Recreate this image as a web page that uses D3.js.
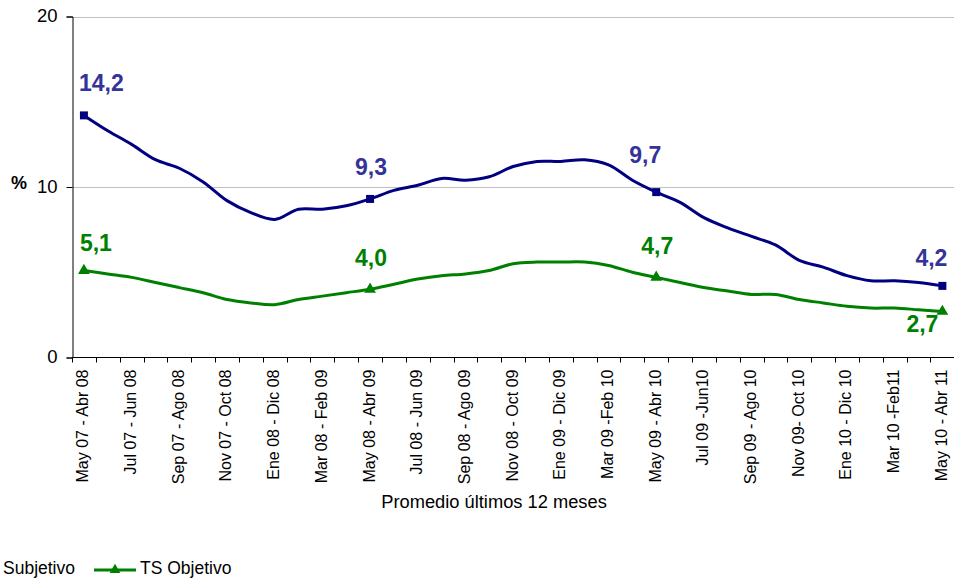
<!DOCTYPE html>
<meta charset="utf-8">
<style>

body { margin: 0; background: #fff; }
svg { display: block; font-family: "Liberation Sans", Arial, sans-serif; }
.grid line { stroke: #c0c0c0; stroke-width: 1; }

</style>

<svg width="954" height="580"></svg>

<script src="https://d3js.org/d3.v7.min.js"></script>
<script>

// periodos (promedio móvil de 12 meses)
var periodos = [
  "May 07 - Abr 08", "Jun 07 - May 08", "Jul 07 - Jun 08", "Ago 07 - Jul 08",
  "Sep 07 - Ago 08", "Oct 07 - Sep 08", "Nov 07 - Oct 08", "Dic 07 - Nov 08",
  "Ene 08 - Dic 08", "Feb 08 - Ene 09", "Mar 08 - Feb 09", "Abr 08 - Mar 09",
  "May 08 - Abr 09", "Jun 08 - May 09", "Jul 08 - Jun 09", "Ago 08 - Jul 09",
  "Sep 08 - Ago 09", "Oct 08 - Sep 09", "Nov 08 - Oct 09", "Dic 08 - Nov 09",
  "Ene 09 - Dic 09", "Feb 09 - Ene 10", "Mar 09 -Feb 10", "Abr 09 - Mar 10",
  "May 09 - Abr 10", "Jun 09 - May 10", "Jul 09 -Jun10", "Ago 09 - Jul 10",
  "Sep 09 - Ago 10", "Oct 09 - Sep 10", "Nov 09- Oct 10", "Dic 09 - Nov 10",
  "Ene 10 - Dic 10", "Feb 10 - Ene 11", "Mar 10 -Feb11", "Abr 10 - Mar 11",
  "May 10 - Abr 11"
];

var subjetivo = [
  14.2, 13.3, 12.5, 11.6, 11.1, 10.3, 9.2, 8.5, 8.1, 8.7, 8.7, 8.9,
  9.3, 9.8, 10.1, 10.5, 10.4, 10.6, 11.2, 11.5, 11.5, 11.6, 11.3, 10.4,
  9.7, 9.1, 8.2, 7.6, 7.1, 6.6, 5.7, 5.3, 4.8, 4.5, 4.5, 4.4,
  4.2
];

var objetivo = [
  5.1, 4.9, 4.7, 4.4, 4.1, 3.8, 3.4, 3.2, 3.1, 3.4, 3.6, 3.8,
  4.0, 4.3, 4.6, 4.8, 4.9, 5.1, 5.5, 5.6, 5.6, 5.6, 5.4, 5.0,
  4.7, 4.4, 4.1, 3.9, 3.7, 3.7, 3.4, 3.2, 3.0, 2.9, 2.9, 2.8,
  2.7
];

var yTicks = [0, 10, 20];
var marcados = [0, 12, 24, 36];   // puntos con marcador y etiqueta

var series = [
  {nome: "Subjetivo", valores: subjetivo, cor: "#000080", corTexto: "#333399", marcador: d3.symbolSquare},
  {nome: "TS Objetivo", valores: objetivo, cor: "#008000", corTexto: "#008000", marcador: d3.symbolTriangle}
];

// desplazamiento de las etiquetas respecto del punto [serie][marcado]
var desloc = [
  [{dx: -5, dy: -24, a: "start"}, {dx: 1, dy: -24, a: "middle"}, {dx: -11, dy: -29, a: "middle"}, {dx: 5, dy: -20, a: "end"}],
  [{dx: -4, dy: -20, a: "start"}, {dx: 1, dy: -23, a: "middle"}, {dx: 1, dy: -23, a: "middle"}, {dx: -4, dy: 21, a: "end"}]
];

var svg = d3.select("svg");

var x = d3.scaleBand()
    .domain(periodos)
    .range([72, 954.3])
    .padding(0);

var y = d3.scaleLinear()
    .domain([0, 20])
    .range([357.5, 16.5]);

var cx = d => x(d) + x.bandwidth() / 2;

// grade
svg.append("g")
    .attr("class", "grid")
  .selectAll("line")
  .data(yTicks.filter(t => t > 0))
  .enter().append("line")
    .attr("x1", 72).attr("x2", 954)
    .attr("y1", d => Math.round(y(d)) + 0.5)
    .attr("y2", d => Math.round(y(d)) + 0.5);

// eixo y
var eixoY = svg.append("g")
    .attr("transform", "translate(72.5,0)")
    .call(d3.axisLeft(y).tickValues(yTicks).tickSize(6).tickPadding(9).tickFormat(d3.format("d")));
eixoY.select(".domain").attr("stroke", "#000");
eixoY.selectAll(".tick line").attr("stroke", "#000");
eixoY.selectAll(".tick text")
    .attr("font-size", 18.5)
    .attr("font-family", "Liberation Sans, Arial, sans-serif")
    .attr("fill", "#000")
    .attr("dy", "0.28em");

svg.append("text")
    .attr("x", 11)
    .attr("y", 189)
    .attr("font-size", 18)
    .attr("font-weight", "bold")
    .text("%");

// eixo x
var eixoX = svg.append("g")
    .attr("transform", "translate(0,357.5)");
eixoX.append("line")
    .attr("x1", 72).attr("x2", 954)
    .attr("stroke", "#000");
eixoX.selectAll(".tk")
  .data(periodos)
  .enter().append("line")
    .attr("class", "tk")
    .attr("x1", d => Math.round(x(d)) + 0.5)
    .attr("x2", d => Math.round(x(d)) + 0.5)
    .attr("y1", 0).attr("y2", 5)
    .attr("stroke", "#000");
eixoX.selectAll(".rot")
  .data(periodos.filter((d, i) => i % 2 === 0))
  .enter().append("text")
    .attr("class", "rot")
    .attr("transform", d => "translate(" + (cx(d) + 4.5) + ",12) rotate(-90)")
    .attr("text-anchor", "end")
    .attr("font-size", 16)
    .attr("fill", "#000")
    .text(d => d);

svg.append("text")
    .attr("x", 494)
    .attr("y", 508)
    .attr("text-anchor", "middle")
    .attr("font-size", 18.3)
    .text("Promedio últimos 12 meses");

// linhas
var linha = d3.line()
    .x((d, i) => cx(periodos[i]))
    .y(d => y(d))
    .curve(d3.curveCatmullRom.alpha(0.5));

series.forEach(function(s, k) {
  svg.append("path")
      .datum(s.valores)
      .attr("fill", "none")
      .attr("stroke", s.cor)
      .attr("stroke-width", 3)
      .attr("d", linha);

  svg.append("g").selectAll("path")
    .data(marcados)
    .enter().append("path")
      .attr("transform", i => "translate(" + cx(periodos[i]) + "," + y(s.valores[i]) + ")")
      .attr("d", d3.symbol().type(s.marcador).size(k === 0 ? 64 : 60))
      .attr("fill", s.cor);

  svg.append("g").selectAll("text")
    .data(marcados)
    .enter().append("text")
      .attr("x", (i, j) => cx(periodos[i]) + desloc[k][j].dx)
      .attr("y", (i, j) => y(s.valores[i]) + desloc[k][j].dy)
      .attr("text-anchor", (i, j) => desloc[k][j].a)
      .attr("font-size", 23)
      .attr("font-weight", "bold")
      .attr("fill", s.corTexto)
      .text(i => d3.format(".1f")(s.valores[i]).replace(".", ","));
});

// legenda (a primeira entrada fica cortada à esquerda)
var legX = [3, 140];
var leg = svg.append("g").selectAll("g")
  .data(series)
  .enter().append("g")
    .attr("transform", (d, i) => "translate(" + legX[i] + ",574)");
leg.append("line")
    .attr("x1", -46).attr("x2", -4)
    .attr("y1", -4).attr("y2", -4)
    .attr("stroke", d => d.cor)
    .attr("stroke-width", 3);
leg.append("path")
    .attr("transform", "translate(-25,-4)")
    .attr("d", d => d3.symbol().type(d.marcador).size(50)())
    .attr("fill", d => d.cor);
leg.append("text")
    .attr("font-size", 17.5)
    .text(d => d.nome);

</script>
